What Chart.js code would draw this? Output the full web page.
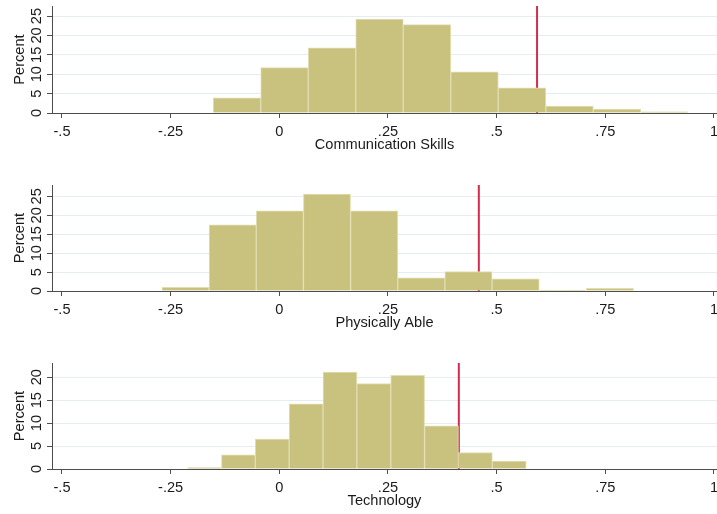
<!DOCTYPE html>
<html>
<head>
<meta charset="utf-8">
<script src="https://cdn.jsdelivr.net/npm/chart.js@4.4.1/dist/chart.umd.min.js"></script>
<style>
  html, body { margin: 0; padding: 0; background: #fff; overflow: hidden; }
  body { width: 717px; height: 514px; position: relative; }
  canvas { position: absolute; left: 0; }
</style>
</head>
<body>
<canvas id="c1" width="717" height="160" style="top:0px"></canvas>
<canvas id="c2" width="717" height="159" style="top:179px"></canvas>
<canvas id="c3" width="717" height="159" style="top:357px"></canvas>
<script>
// x ticks shared by all three panels
const xTickVals = [-0.5, -0.25, 0, 0.25, 0.5, 0.75, 1];
const xTickLabels = ['-.5', '-.25', '0', '.25', '.5', '.75', '1'];

// Communication Skills
const commCenters = [-0.0974, 0.0119, 0.1212, 0.2305, 0.3398, 0.4491, 0.5584, 0.6677, 0.7770, 0.8863];
const commPct = [3.9, 11.7, 16.8, 24.2, 22.8, 10.6, 6.5, 1.8, 1.0, 0.3];
const commMark = 0.593;
const commYTicks = [0, 5, 10, 15, 20, 25];

// Physically Able
const physCenters = [-0.2158, -0.1073, 0.0012, 0.1097, 0.2182, 0.3267, 0.4352, 0.5437, 0.6522, 0.7607];
const physPct = [1.0, 17.5, 21.2, 25.6, 21.2, 3.5, 5.1, 3.2, 0.26, 0.7];
const physMark = 0.459;
const physYTicks = [0, 5, 10, 15, 20, 25];

// Technology
const techCenters = [-0.1721, -0.0942, -0.0163, 0.0616, 0.1395, 0.2174, 0.2953, 0.3732, 0.4511, 0.5290];
const techPct = [0.3, 3.1, 6.5, 14.2, 21.1, 18.6, 20.4, 9.4, 3.6, 1.75];
const techMark = 0.413;
const techYTicks = [0, 5, 10, 15, 20];

const axisColor = '#4d4d4d';
const fontFam = '"Liberation Sans", Arial, sans-serif';
const fontSize = 14.6;

// linha vertical vermelha (desenhada atrás das barras)
const markLine = {
    id: 'markLine',
    beforeDatasetsDraw(chart, args, opts) {
        const { ctx, chartArea, scales } = chart;
        const x = scales.x.getPixelForValue(opts.value);
        ctx.save();
        ctx.strokeStyle = '#d12b50';
        ctx.lineWidth = 2;
        ctx.beginPath();
        ctx.moveTo(x, chartArea.top);
        ctx.lineTo(x, chartArea.bottom);
        ctx.stroke();
        ctx.restore();
    }
};

function makeHist(id, centers, pct, mark, yMax, yTicks, title) {
    const ctx = document.getElementById(id).getContext('2d');
    return new Chart(ctx, {
        type: 'bar',
        data: {
            datasets: [{
                data: centers.map((c, i) => ({ x: c, y: pct[i] })),
                backgroundColor: '#c9c27f',
                borderColor: '#e2deb2',
                borderWidth: 1,
                categoryPercentage: 1,
                barPercentage: 1
            }]
        },
        plugins: [markLine],
        options: {
            responsive: false,
            animation: false,
            devicePixelRatio: 1,
            layout: { padding: { top: 6, right: 0, left: 0, bottom: 0 } },
            plugins: {
                legend: { display: false },
                tooltip: { enabled: false },
                markLine: { value: mark }
            },
            scales: {
                x: {
                    type: 'linear',
                    min: -0.523,
                    max: 1.007,
                    offset: false,
                    afterBuildTicks: s => { s.ticks = xTickVals.map(v => ({ value: v })); },
                    afterFit: s => { s.height = 47; s.paddingLeft = 0; s.paddingRight = 0; },
                    grid: { offset: false, drawOnChartArea: false, drawTicks: true, tickLength: 5, tickColor: axisColor },
                    border: { color: axisColor, width: 1 },
                    ticks: {
                        autoSkip: false,
                        maxRotation: 0,
                        padding: 5,
                        color: '#1a1a1a',
                        font: { family: fontFam, size: fontSize },
                        callback: v => xTickLabels[xTickVals.indexOf(v)]
                    },
                    title: {
                        display: true,
                        text: title,
                        color: '#1a1a1a',
                        font: { family: fontFam, size: fontSize },
                        padding: { top: 0, bottom: 6 }
                    }
                },
                y: {
                    min: 0,
                    max: yMax,
                    afterBuildTicks: s => { s.ticks = yTicks.map(v => ({ value: v })); },
                    afterFit: s => { s.width = 52; s.paddingTop = 0; s.paddingBottom = 0; },
                    grid: {
                        color: c => c.tick && c.tick.value === 0 ? 'rgba(0,0,0,0)' : '#e4edef',
                        tickColor: axisColor,
                        tickLength: 5
                    },
                    border: { color: axisColor, width: 1 },
                    ticks: {
                        minRotation: 90,
                        maxRotation: 90,
                        crossAlign: 'center',
                        padding: 2,
                        color: '#1a1a1a',
                        font: { family: fontFam, size: fontSize }
                    },
                    title: {
                        display: true,
                        text: 'Percent',
                        color: '#1a1a1a',
                        font: { family: fontFam, size: fontSize },
                        padding: { top: 11, bottom: 0 }
                    }
                }
            }
        }
    });
}

makeHist('c1', commCenters, commPct, commMark, 27.6, commYTicks, 'Communication Skills');
makeHist('c2', physCenters, physPct, physMark, 28.0, physYTicks, 'Physically Able');
makeHist('c3', techCenters, techPct, techMark, 23.1, techYTicks, 'Technology');
</script>
</body>
</html>
